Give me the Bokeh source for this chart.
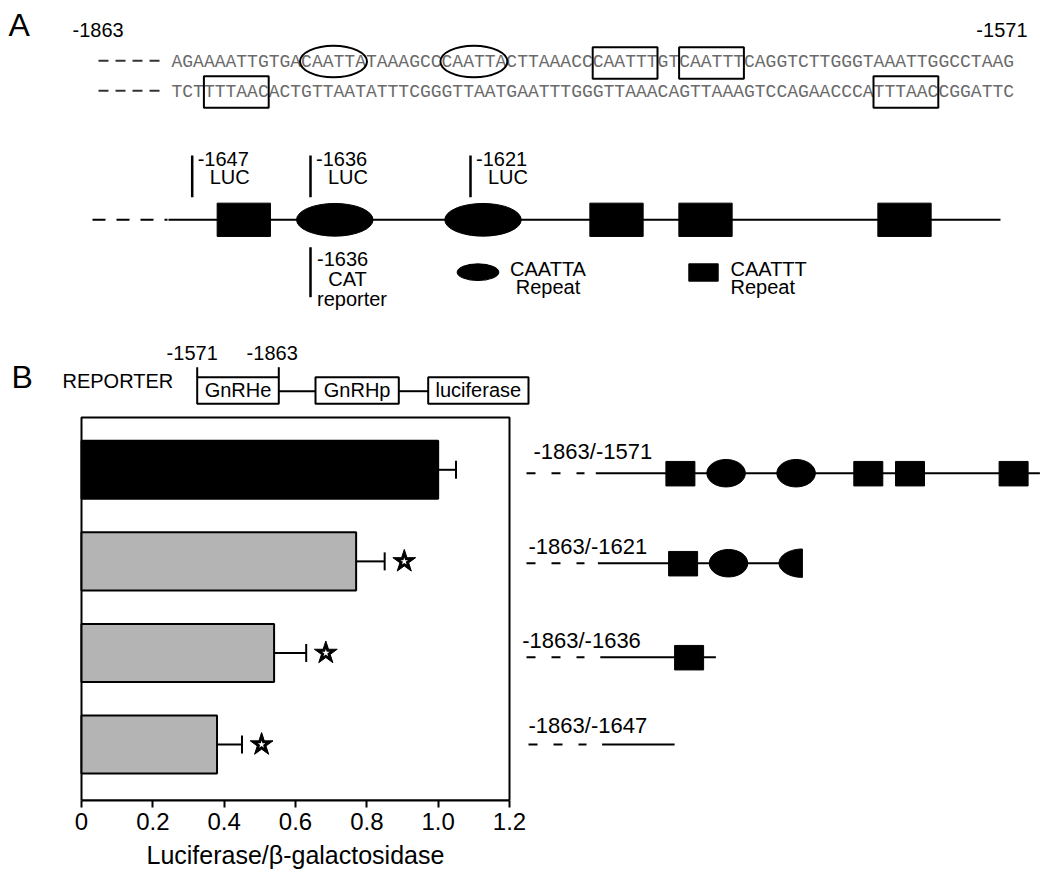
import numpy as np
from bokeh.plotting import figure
from bokeh.models import Range1d, ColumnDataSource, Whisker, TeeHead, FixedTicker, Title
from bokeh.core.properties import value
from bokeh.embed import file_html
from bokeh.resources import INLINE

# ------------------------------------------------------------------ data
constructs = ["-1863/-1571", "-1863/-1621", "-1863/-1636", "-1863/-1647"]
activity = [1.00, 0.77, 0.54, 0.38]
activity_sem = [0.05, 0.08, 0.09, 0.07]
significant = [False, True, True, True]
bar_colors = ["black", "#b4b4b4", "#b4b4b4", "#b4b4b4"]
x_ticks = [0, 0.2, 0.4, 0.6, 0.8, 1.0, 1.2]
x_tick_labels = ["0", "0.2", "0.4", "0.6", "0.8", "1.0", "1.2"]
x_axis_title = "Luciferase/\u03b2-galactosidase"

seq_top = "AGAAAATTGTGACAATTATAAAGCCCAATTACTTAAACCCAATTTGTCAATTTCAGGTCTTGGGTAAATTGGCCTAAG"
seq_bottom = "TCTTTTAACACTGTTAATATTTCGGGTTAATGAATTTGGGTTAAACAGTTAAAGTCCAGAACCCATTTAACCGGATTC"
seq_start_label, seq_end_label = "-1863", "-1571"
oval_motif, box_motif, box_motif_rev = "CAATTA", "CAATTT", "TTTAAC"

overview_markers_above = ["-1647", "-1636", "-1621"]
overview_marker_below = ["-1636", "CAT", "reporter"]
reporter_parts = ["GnRHe", "GnRHp", "luciferase"]

# ------------------------------------------------------------------ layout (pixels)
W, H = 1050, 882
FRAME_BOTTOM = 800                 # px where the x axis sits
BAR_L, BAR_R, BAR_T = 81, 509, 417
X_LO, X_HI = 0.0, 1.2
Y_LO, Y_HI = 0.389, 4.571          # value limits of bar panel box
n = len(constructs)
ypos = [n - i for i in range(n)]

sx = (BAR_R - BAR_L) / (X_HI - X_LO)
x_start = X_LO - BAR_L / sx
x_end = X_HI + (W - BAR_R) / sx
sy = (FRAME_BOTTOM - BAR_T) / (Y_HI - Y_LO)
y_end = Y_HI + BAR_T / sy

p = figure(width=W, height=H, output_backend="svg", toolbar_location=None,
           x_range=Range1d(x_start, x_end), y_range=Range1d(Y_LO, y_end),
           y_axis_location=None, min_border_left=0, min_border_right=0,
           min_border_top=0, min_border_bottom=H - FRAME_BOTTOM)
p.extra_x_ranges = {"px": Range1d(0, W)}
p.extra_y_ranges = {"py": Range1d(FRAME_BOTTOM, 0)}
p.outline_line_color = None
p.xgrid.visible = False
p.ygrid.visible = False
p.background_fill_color = "white"
p.border_fill_color = "white"

SANS = value("Liberation Sans")
MONO = value("Liberation Mono")
PX = dict(x_range_name="px", y_range_name="py")


def txt(x, y, t, size=20, align="left", mono=False, color="black"):
    k = 0.28 if mono else 0.4
    p.text(x=[x], y=[y - k * size], text=[t], text_font=MONO if mono else SANS,
           text_font_size=f"{size}px", text_align=align, text_baseline="alphabetic",
           text_color=color, **PX)


def hline(x0, x1, y, width=2, dash="solid", color="black"):
    p.line(x=[x0, x1], y=[y, y], line_width=width, line_dash=dash, line_color=color, **PX)


def vline(x, y0, y1, width=2.5):
    p.line(x=[x, x], y=[y0, y1], line_width=width, line_color="black", **PX)


# ------------------------------------------------------------------ panel A: sequence
txt(8, 37, "A", size=32)
txt(72, 37, seq_start_label)
txt(1027, 37, seq_end_label, align="right")

X0, CW = 171.0, 10.8
for seq, base in [(seq_top, 66.7), (seq_bottom, 96.7)]:
    hline(98, 160, base - 6.5, width=2, dash="10 7", color="#333333")
    txt(X0, base, seq, size=18, mono=True, color="#6a6a6a")


def motif_positions(seq, motif):
    out, i = [], seq.find(motif)
    while i >= 0:
        out.append(i)
        i = seq.find(motif, i + 1)
    return out


for i in motif_positions(seq_top, oval_motif):
    p.ellipse(x=[X0 + (i + 3) * CW], y=[61.0], width=[67], height=[31.7],
              fill_color=None, line_color="black", line_width=2, **PX)
for seq, motif, yc in [(seq_top, box_motif, 62.5), (seq_bottom, box_motif_rev, 91.5)]:
    for i in motif_positions(seq, motif):
        p.rect(x=[X0 + (i + 3) * CW], y=[yc], width=[6 * CW], height=[31.5],
               fill_color=None, line_color="black", line_width=2, **PX)

# ------------------------------------------------------------------ panel A: overview map
LY = 219.3
hline(92, 167, LY, dash="13 11")
hline(168, 1000, LY)
for xc in [243.3, 616.0, 705.0, 904.0]:
    p.rect(x=[xc], y=[LY], width=[53.3], height=[33.3], fill_color="black",
           line_color="black", **PX)
for xc in [334.3, 482.5]:
    p.ellipse(x=[xc], y=[LY], width=[76.5], height=[32.7], fill_color="black",
              line_color="black", **PX)

for lab, mx in zip(overview_markers_above, [191.7, 310.0, 470.0]):
    vline(mx, 155, 196.7)
    txt(mx + 5.5, 166, lab)
    txt(mx + 37.5, 184.5, "LUC", align="center")

vline(310, 246.7, 296.7)
txt(316.5, 266.7, overview_marker_below[0])
txt(347, 286.7, overview_marker_below[1], align="center")
txt(316.5, 306.7, overview_marker_below[2])

p.ellipse(x=[477.5], y=[271.7], width=[41.7], height=[16.7], fill_color="black",
          line_color="black", **PX)
txt(547.5, 276.7, oval_motif, align="center")
txt(547.5, 294.3, "Repeat", align="center")
p.rect(x=[703], y=[272], width=[29.4], height=[17.4], fill_color="black",
       line_color="black", **PX)
txt(730, 276.7, box_motif)
txt(730, 294.3, "Repeat")

# ------------------------------------------------------------------ panel B: reporter construct
txt(11, 389, "B", size=32)
txt(62, 388, "REPORTER")
box_x = [(196.7, 278.3), (315.0, 398.3), (427.7, 528.0)]
for (l, r), name in zip(box_x, reporter_parts):
    p.quad(left=[l], right=[r], top=[376.7], bottom=[403.3], fill_color=None,
           line_color="black", line_width=2, **PX)
    txt((l + r) / 2, 397, name, align="center")
for (l, r), lab in zip([(196.7, 191.7), (278.3, 271.7)], [seq_end_label, seq_start_label]):
    vline(l, 366.7, 376.7, width=2)
    txt(r, 360, lab, align="center")
for a, b in zip(box_x[:-1], box_x[1:]):
    hline(a[1], b[0], 390.7)

# ------------------------------------------------------------------ panel B: bars
src = ColumnDataSource(dict(
    y=ypos, v=activity, up=[a + e for a, e in zip(activity, activity_sem)], c=bar_colors))
p.quad(left=[X_LO], right=[X_HI], bottom=[Y_LO], top=[Y_HI], fill_color=None,
       line_color="black", line_width=2)
p.hbar(y="y", left=0, right="v", height=0.635, fill_color="c", line_color="black",
       line_width=2, source=src)
p.add_layout(Whisker(base="y", lower="v", upper="up", dimension="width", source=src,
                     line_width=2, line_color="black", lower_head=None,
                     upper_head=TeeHead(size=18, line_width=2, line_color="black")))
star_x = [a + e + 0.055 for a, e, s in zip(activity, activity_sem, significant) if s]
star_y = [y for y, s in zip(ypos, significant) if s]
p.scatter(x=star_x, y=star_y, marker="star", size=24, fill_color="black",
          line_color="black", line_width=1)
p.scatter(x=star_x, y=star_y, marker="star", size=8, fill_color="white",
          line_color=None)

ax = p.xaxis[0]
ax.bounds = (X_LO, X_HI)
ax.ticker = FixedTicker(ticks=x_ticks, minor_ticks=[])
ax.major_label_overrides = {t: s for t, s in zip(x_ticks, x_tick_labels)}
ax.axis_line_width = 2
ax.major_tick_line_width = 2
ax.major_tick_out = 7
ax.major_tick_in = 0
ax.minor_tick_line_color = None
ax.major_label_standoff = 5
ax.major_label_text_font = "Liberation Sans"
ax.major_label_text_font_size = "24px"
ax.major_label_text_color = "black"

# axis title, centred under the bar axis (not under the whole frame)
title_w = 298
p.add_layout(Title(text=x_axis_title, align="left", offset=(BAR_L + BAR_R) / 2 - title_w / 2,
                   vertical_align="bottom", text_font="Liberation Sans",
                   text_font_size="25px", text_font_style="normal", text_color="black",
                   standoff=13), "below")

# ------------------------------------------------------------------ panel B: deletion maps
rows = [
    dict(lx=533.0, lb=460.0, y=472.7, dash=(526, 584), solid=(595.3, 1039.4),
         elems=[("box", 679.9), ("ell", 725.6), ("ell", 795.6), ("box", 867.8),
                ("box", 909.5), ("box", 1013.1)]),
    dict(lx=528.0, lb=555.0, y=562.7, dash=(526, 584), solid=(597.4, 780.0),
         elems=[("box", 682.6), ("ell", 728.0), ("half", 801.9)]),
    dict(lx=521.7, lb=648.3, y=656.7, dash=(526, 584), solid=(599.8, 715.4),
         elems=[("box", 688.6)]),
    dict(lx=528.0, lb=733.3, y=744.0, dash=(528, 586), solid=(601.6, 674.1), elems=[]),
]
for name, r in zip(constructs, rows):
    txt(r["lx"], r["lb"], name, size=22)
    hline(r["dash"][0], r["dash"][1], r["y"], dash="9 16")
    hline(r["solid"][0], r["solid"][1], r["y"])
    for kind, xc in r["elems"]:
        if kind == "box":
            p.rect(x=[xc], y=[r["y"] + 0.5], width=[29], height=[24.5], fill_color="black",
                   line_color="black", **PX)
        elif kind == "ell":
            p.ellipse(x=[xc], y=[r["y"]], width=[38.5], height=[27.5], fill_color="black",
                      line_color="black", **PX)
        else:
            t = np.linspace(np.pi / 2, 3 * np.pi / 2, 40)
            p.patch(x=xc + 23.4 * np.cos(t), y=r["y"] + 14.2 * np.sin(t),
                    fill_color="black", line_color="black", **PX)

open("out.html", "w").write(file_html(p, INLINE))
